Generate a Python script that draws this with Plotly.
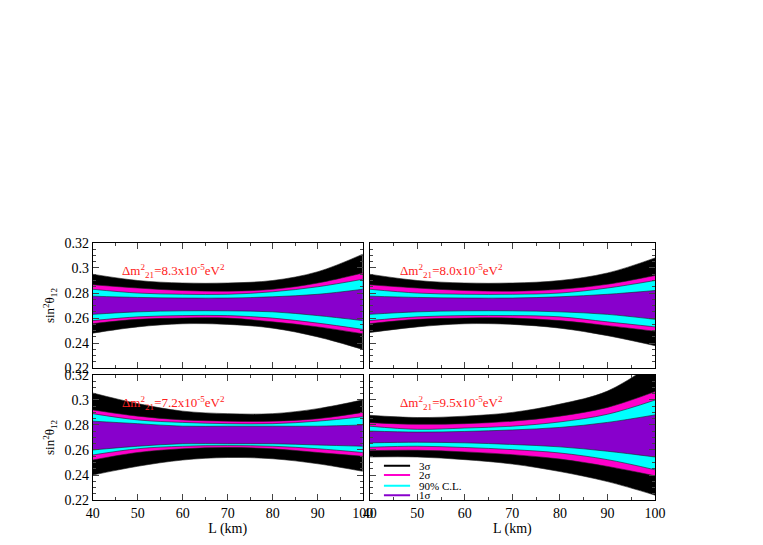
import plotly.graph_objects as go

L = [40, 50, 60, 70, 80, 90, 100]
levels = ["3σ", "2σ", "90% C.L.", "1σ"]
colors = ["#000000", "#ff00cc", "#00ffff", "#8800cc"]
legend_y = [0.2475, 0.2400, 0.2315, 0.2240]

# each panel: upper and lower bounds per level (3σ, 2σ, 90%, 1σ)
panels = {
    "8.3": {
        "up": [[0.295, 0.290, 0.288, 0.288, 0.290, 0.297, 0.311],
               [0.2866, 0.284, 0.282, 0.2815, 0.283, 0.288, 0.296],
               [0.283, 0.280, 0.279, 0.279, 0.281, 0.285, 0.291],
               [0.2775, 0.2765, 0.276, 0.276, 0.277, 0.279, 0.283]],
        "lo": [[0.248, 0.253, 0.2555, 0.255, 0.252, 0.245, 0.235],
               [0.2556, 0.259, 0.260, 0.260, 0.257, 0.253, 0.2475],
               [0.258, 0.261, 0.262, 0.262, 0.260, 0.256, 0.251],
               [0.263, 0.265, 0.2658, 0.2658, 0.265, 0.262, 0.258]],
    },
    "8.0": {
        "up": [[0.295, 0.290, 0.288, 0.288, 0.290, 0.296, 0.308],
               [0.2866, 0.284, 0.282, 0.2815, 0.283, 0.287, 0.294],
               [0.283, 0.280, 0.279, 0.279, 0.280, 0.284, 0.290],
               [0.2775, 0.2765, 0.276, 0.276, 0.277, 0.279, 0.282]],
        "lo": [[0.2485, 0.253, 0.2555, 0.255, 0.252, 0.246, 0.238],
               [0.2556, 0.259, 0.260, 0.260, 0.258, 0.254, 0.2495],
               [0.258, 0.261, 0.262, 0.262, 0.261, 0.257, 0.253],
               [0.263, 0.265, 0.2658, 0.2658, 0.265, 0.263, 0.259]],
    },
    "7.2": {
        "up": [[0.3055, 0.297, 0.291, 0.289, 0.289, 0.293, 0.300],
               [0.292, 0.287, 0.284, 0.283, 0.283, 0.285, 0.290],
               [0.289, 0.284, 0.282, 0.281, 0.281, 0.283, 0.2865],
               [0.283, 0.281, 0.279, 0.279, 0.279, 0.279, 0.280]],
        "lo": [[0.240, 0.247, 0.252, 0.254, 0.253, 0.249, 0.243],
               [0.252, 0.258, 0.261, 0.262, 0.261, 0.258, 0.255],
               [0.256, 0.261, 0.263, 0.2635, 0.263, 0.261, 0.258],
               [0.260, 0.263, 0.265, 0.265, 0.265, 0.264, 0.263]],
    },
    "9.5": {
        "up": [[0.2877, 0.2859, 0.287, 0.290, 0.2966, 0.307, 0.330],
               [0.2818, 0.2805, 0.281, 0.283, 0.287, 0.294, 0.3066],
               [0.279, 0.2765, 0.2775, 0.279, 0.2824, 0.2885, 0.2998],
               [0.2751, 0.2743, 0.2748, 0.276, 0.278, 0.282, 0.288]],
        "lo": [[0.2544, 0.2544, 0.2523, 0.2488, 0.2428, 0.2348, 0.224],
               [0.2595, 0.2598, 0.2585, 0.2563, 0.2528, 0.2469, 0.2394],
               [0.2622, 0.263, 0.262, 0.2603, 0.2576, 0.2523, 0.2442],
               [0.2657, 0.2662, 0.2657, 0.2644, 0.2625, 0.259, 0.2544]],
    },
}
order = ["8.3", "8.0", "7.2", "9.5"]
xdom = [[0.111, 0.465], [0.474, 0.848]]
ydom = [[0.339, 0.569], [0.097, 0.327]]
font = "Liberation Serif"

fig = go.Figure()
for i, key in enumerate(order):
    r, c = divmod(i, 2)
    n = i + 1
    xa = "x" if n == 1 else f"x{n}"
    ya = "y" if n == 1 else f"y{n}"
    for k in range(4):
        up = panels[key]["up"][k]
        lo = panels[key]["lo"][k]
        fig.add_trace(go.Scatter(x=L, y=lo, mode="lines",
                                 line=dict(color="#202020", width=0.6, shape="spline"),
                                 xaxis=xa, yaxis=ya, showlegend=False, hoverinfo="skip"))
        fig.add_trace(go.Scatter(x=L, y=up, mode="lines", fill="tonexty", fillcolor=colors[k],
                                 line=dict(color="#202020", width=0.6, shape="spline"),
                                 xaxis=xa, yaxis=ya, showlegend=False, hoverinfo="skip"))
    fig.add_annotation(xref=f"{xa} domain", yref=f"{ya} domain", x=0.1, y=0.86,
                       xanchor="left", showarrow=False,
                       text=f"Δm<sup>2</sup><sub>21</sub>=" + key + "x10<sup>-5</sup>eV<sup>2</sup>",
                       font=dict(color="#ff2020", size=13, family=font))
    ax = dict(domain=xdom[c], range=[40, 100], showline=True, linecolor="black", mirror="ticks",
              ticks="inside", ticklen=6, dtick=10, showgrid=False, zeroline=False, automargin=False,
              showticklabels=(r == 1), tickfont=dict(size=14, family=font, color="black"),
              minor=dict(ticks="inside", ticklen=3, dtick=5),
              anchor=ya)
    if r == 1:
        ax["title"] = dict(text="L (km)", font=dict(size=14, family=font, color="black"), standoff=2)
    ay = dict(domain=ydom[r], range=[0.22, 0.32], showline=True, linecolor="black", mirror="ticks",
              ticks="inside", ticklen=6, dtick=0.02, showgrid=False, zeroline=False, automargin=False,
              showticklabels=(c == 0), tickfont=dict(size=14, family=font, color="black"),
              minor=dict(ticks="inside", ticklen=3, dtick=0.005), anchor=xa)
    if c == 0:
        ay["title"] = dict(text="sin<sup>2</sup>θ<sub>12</sub>", font=dict(size=13, family=font, color="black"), standoff=6)
    fig.layout[("xaxis" if n == 1 else f"xaxis{n}")] = ax
    fig.layout[("yaxis" if n == 1 else f"yaxis{n}")] = ay

# legend drawn inside the bottom-right panel
for k in range(4):
    fig.add_trace(go.Scatter(x=[43, 48.5], y=[legend_y[k]] * 2, mode="lines",
                             line=dict(color=colors[k], width=2), xaxis="x4", yaxis="y4",
                             showlegend=False, hoverinfo="skip"))
    fig.add_annotation(x=50, y=legend_y[k], xref="x4", yref="y4", text=levels[k],
                       xanchor="left", showarrow=False,
                       font=dict(size=11, family=font, color="black"))

fig.update_layout(width=763, height=545, margin=dict(l=0, r=0, t=0, b=0),
                  plot_bgcolor="white", paper_bgcolor="white", showlegend=False)
fig.write_html("out.html")
